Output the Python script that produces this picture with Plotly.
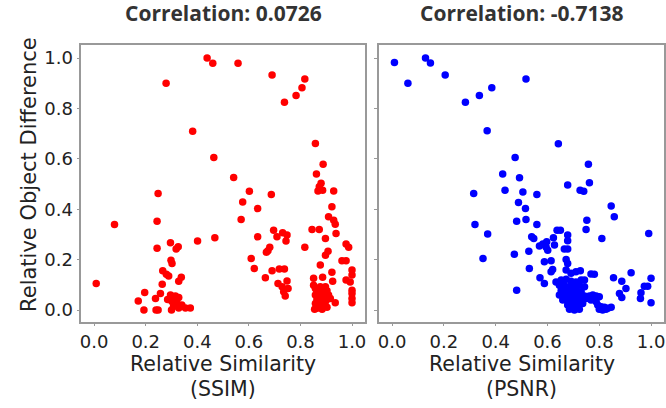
import plotly.graph_objects as go

# Left panel: SSIM relative similarity vs relative object difference
ssim_x = [0.438, 0.46, 0.279, 0.382, 0.464, 0.558, 0.69, 0.817, 0.806, 0.783, 0.738, 0.858, 0.888, 0.862, 0.541,
          0.248, 0.079, 0.244, 0.296, 0.326, 0.318, 0.244, 0.401, 0.468, 0.298, 0.302, 0.008, 0.266, 0.28, 0.289,
          0.338, 0.328, 0.264, 0.196, 0.257, 0.238, 0.171, 0.193, 0.24, 0.248, 0.296, 0.315, 0.328, 0.302, 0.321,
          0.34, 0.308, 0.328, 0.354, 0.373, 0.3, 0.315, 0.285,
          0.88, 0.873, 0.886, 0.868, 0.929, 0.602, 0.687, 0.576, 0.634, 0.922, 0.57, 0.909, 0.929, 0.935, 0.696,
          0.845, 0.873, 0.938, 0.731, 0.748, 0.709, 0.634, 0.897, 0.744, 0.977, 0.987, 0.817, 0.681, 0.674, 0.668,
          0.907, 0.897, 0.609, 0.961, 0.977, 0.877, 0.621, 0.718, 0.738, 0.69, 0.922, 1.0, 1.0, 0.664, 0.851,
          0.886, 0.925, 0.977, 0.993, 0.748, 0.713, 0.729, 0.752, 1.0, 0.735, 0.741, 1.0, 1.0, 1.0, 0.851,
          0.858, 0.877, 0.897, 0.864, 0.884, 0.903, 0.858, 0.877, 0.894, 0.909, 0.864, 0.884, 0.899, 0.935, 0.858,
          0.877, 0.894, 0.864, 0.884, 0.903, 0.855, 0.916]
ssim_y = [1.0, 0.98, 0.90, 0.71, 0.606, 0.98, 0.933, 0.917, 0.882, 0.852, 0.825, 0.661, 0.579, 0.54, 0.526,
          0.463, 0.34, 0.353, 0.267, 0.251, 0.242, 0.245, 0.274, 0.287, 0.198, 0.185, 0.106, 0.156, 0.142, 0.135,
          0.13, 0.115, 0.103, 0.07, 0.066, 0.046, 0.036, 0.0, 0.0, 0.0, 0.06, 0.056, 0.05, 0.034, 0.028,
          0.02, 0.015, 0.008, 0.008, 0.008, 0.0, 0.045, 0.042,
          0.503, 0.49, 0.476, 0.473, 0.473, 0.472, 0.459, 0.429, 0.403, 0.41, 0.36, 0.37, 0.357, 0.341, 0.317,
          0.32, 0.32, 0.304, 0.307, 0.298, 0.291, 0.291, 0.284, 0.274, 0.262, 0.249, 0.249, 0.249, 0.236, 0.23,
          0.234, 0.218, 0.205, 0.196, 0.196, 0.179, 0.165, 0.163, 0.163, 0.156, 0.15, 0.159, 0.139, 0.128, 0.126,
          0.13, 0.115, 0.119, 0.112, 0.116, 0.106, 0.093, 0.086, 0.079, 0.073, 0.056, 0.066, 0.046, 0.029, 0.099,
          0.086, 0.093, 0.093, 0.073, 0.077, 0.077, 0.06, 0.056, 0.053, 0.06, 0.042, 0.04, 0.037, 0.029, 0.026,
          0.02, 0.024, 0.007, 0.003, 0.011, 0.003, 0.046]

# Right panel: PSNR relative similarity vs relative object difference
psnr_x = [0.009, 0.129, 0.148, 0.061, 0.205, 0.283, 0.337, 0.385, 0.367, 0.475, 0.427, 0.492, 0.517, 0.642, 0.758,
          0.315, 0.436, 0.488, 0.32, 0.369, 0.481, 0.472, 0.351, 0.481, 0.505, 0.559, 0.678, 0.762, 0.726, 0.74,
          0.515, 0.846, 0.858, 0.517, 0.559, 0.752, 0.749, 0.637, 0.65, 0.991, 0.678, 0.539, 0.547, 0.623, 0.678,
          0.81, 0.597, 0.582, 0.569, 0.627, 0.595, 0.601, 0.665, 0.678, 0.528, 0.672, 0.678, 0.614, 0.588, 0.53,
          0.62, 0.614, 0.672, 0.71, 0.727, 0.691, 0.768, 0.781, 0.923, 0.571, 0.855, 0.887, 1.0, 0.588, 0.903,
          0.974, 0.987, 0.961, 0.878, 0.887, 0.959, 1.0,
          0.633, 0.653, 0.672, 0.691, 0.71, 0.73, 0.743, 0.646, 0.665, 0.685, 0.704, 0.723, 0.743, 0.653, 0.672,
          0.691, 0.71, 0.73, 0.646, 0.665, 0.685, 0.704, 0.723, 0.743, 0.659, 0.678, 0.698, 0.717, 0.736, 0.678,
          0.698, 0.717, 0.736, 0.685, 0.704, 0.723, 0.749, 0.762, 0.775, 0.788, 0.8, 0.768, 0.788, 0.794, 0.807,
          0.82, 0.833, 0.846, 0.8, 0.813, 0.826]
psnr_y = [0.983, 1.0, 0.981, 0.9, 0.933, 0.825, 0.852, 0.882, 0.712, 0.606, 0.54, 0.525, 0.917, 0.66, 0.579,
          0.463, 0.476, 0.427, 0.34, 0.302, 0.353, 0.222, 0.205, 0.079, 0.469, 0.459, 0.496, 0.505, 0.476, 0.472,
          0.403, 0.413, 0.37, 0.36, 0.34, 0.357, 0.32, 0.317, 0.317, 0.304, 0.298, 0.291, 0.284, 0.287, 0.275,
          0.284, 0.271, 0.262, 0.254, 0.258, 0.249, 0.238, 0.242, 0.242, 0.234, 0.201, 0.185, 0.196, 0.192, 0.165,
          0.161, 0.152, 0.159, 0.152, 0.156, 0.146, 0.143, 0.142, 0.148, 0.128, 0.128, 0.115, 0.126, 0.106, 0.086,
          0.095, 0.095, 0.069, 0.066, 0.05, 0.046, 0.029,
          0.112, 0.119, 0.122, 0.115, 0.112, 0.119, 0.119, 0.099, 0.099, 0.093, 0.093, 0.099, 0.093, 0.079, 0.077,
          0.079, 0.077, 0.073, 0.06, 0.06, 0.06, 0.056, 0.056, 0.056, 0.04, 0.04, 0.037, 0.04, 0.042, 0.02,
          0.02, 0.024, 0.026, 0.003, 0.0, 0.003, 0.046, 0.056, 0.06, 0.056, 0.053, 0.04, 0.033, 0.02, 0.013,
          0.011, 0.007, 0.011, 0.003, 0.0, 0.003]

titles = ["Correlation: 0.0726", "Correlation: -0.7138"]
xlabel_main = "Relative Similarity"
xlabel_metric = ["(SSIM)", "(PSNR)"]
ylabel = "Relative Object Difference"
tick_vals = [0.0, 0.2, 0.4, 0.6, 0.8, 1.0]
tick_text = ["0.0", "0.2", "0.4", "0.6", "0.8", "1.0"]

W, H = 666, 408
dom1 = [80.5 / W, 365 / W]
dom2 = [379.3 / W, 665 / W]
ydom = [1 - 321.7 / H, 1 - 45 / H]

fig = go.Figure()
fig.add_trace(go.Scatter(x=ssim_x, y=ssim_y, mode="markers", xaxis="x", yaxis="y",
                         marker=dict(color="#ff0000", size=7.5, line=dict(width=0)), showlegend=False))
fig.add_trace(go.Scatter(x=psnr_x, y=psnr_y, mode="markers", xaxis="x2", yaxis="y2",
                         marker=dict(color="#0000ff", size=7.5, line=dict(width=0)), showlegend=False))

tickfont = dict(family="DejaVu Sans", size=18, color="#222")
axis_common = dict(range=[-0.05, 1.05], tickvals=tick_vals, ticktext=tick_text, ticks="outside",
                   ticklen=3, tickcolor="#999", showline=True, linecolor="#999", linewidth=1.5, mirror=True,
                   showgrid=False, zeroline=False, tickfont=tickfont)
yaxis_common = dict(range=[-0.046, 1.052], tickvals=tick_vals, ticktext=tick_text, ticks="outside",
                    ticklen=3, tickcolor="#999", showline=True, linecolor="#999", linewidth=1.5, mirror=True,
                    showgrid=False, zeroline=False, tickfont=tickfont, domain=ydom)

fig.update_layout(
    width=W, height=H, margin=dict(l=0, r=0, t=0, b=0),
    paper_bgcolor="white", plot_bgcolor="white",
    xaxis=dict(domain=dom1, anchor="y", **axis_common),
    xaxis2=dict(domain=dom2, anchor="y2", **axis_common),
    yaxis=dict(anchor="x", **yaxis_common),
    yaxis2=dict(anchor="x2", showticklabels=False, **yaxis_common),
)

annots = []
for i, d in enumerate([dom1, dom2]):
    cx = (d[0] + d[1]) / 2
    annots.append(dict(text="<b>" + titles[i] + "</b>", x=cx, y=1 - 13 / H, xref="paper", yref="paper",
                       xanchor="center", yanchor="middle", showarrow=False,
                       font=dict(family="Open Sans", size=21, color="#333")))
    annots.append(dict(text=xlabel_main, x=cx, y=1 - 364 / H, xref="paper", yref="paper",
                       xanchor="center", yanchor="middle", showarrow=False,
                       font=dict(family="DejaVu Sans", size=20.5, color="#222")))
    annots.append(dict(text=xlabel_metric[i], x=cx, y=1 - 389 / H, xref="paper", yref="paper",
                       xanchor="center", yanchor="middle", showarrow=False,
                       font=dict(family="DejaVu Sans", size=20.5, color="#222")))
annots.append(dict(text=ylabel, x=28 / W, y=1 - 174 / H, xref="paper", yref="paper", textangle=-90,
                   xanchor="center", yanchor="middle", showarrow=False,
                   font=dict(family="DejaVu Sans", size=21, color="#222")))
fig.update_layout(annotations=annots)

fig.write_html("out.html")
